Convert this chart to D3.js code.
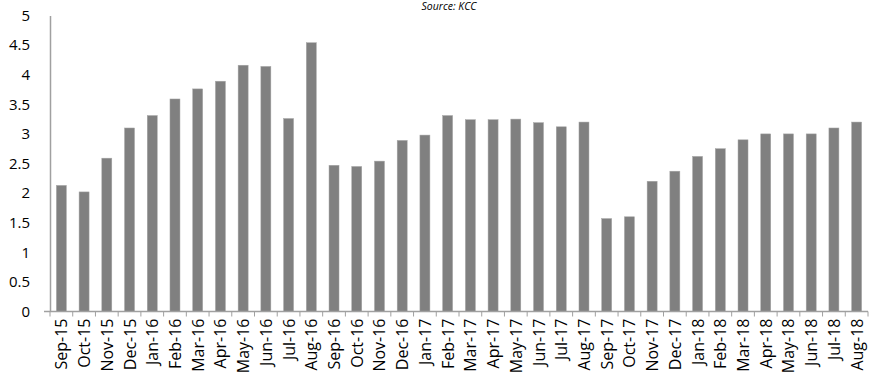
<!DOCTYPE html>
<html>
<head>
<meta charset="utf-8">
<script src="https://cdn.jsdelivr.net/npm/d3@7"></script>
<style>
  body { margin: 0; background: #fff; }
  svg { display: block; }
</style>
</head>
<body>
<div id="vizcont"></div>
<script>
// months shown on the x axis
var months = ["Sep-15","Oct-15","Nov-15","Dec-15","Jan-16","Feb-16","Mar-16","Apr-16","May-16","Jun-16","Jul-16","Aug-16",
              "Sep-16","Oct-16","Nov-16","Dec-16","Jan-17","Feb-17","Mar-17","Apr-17","May-17","Jun-17","Jul-17","Aug-17",
              "Sep-17","Oct-17","Nov-17","Dec-17","Jan-18","Feb-18","Mar-18","Apr-18","May-18","Jun-18","Jul-18","Aug-18"];
// value per month
var values = [2.13, 2.02, 2.59, 3.10, 3.31, 3.59, 3.76, 3.89, 4.16, 4.14, 3.26, 4.54,
              2.47, 2.45, 2.54, 2.89, 2.98, 3.31, 3.24, 3.24, 3.25, 3.19, 3.12, 3.20,
              1.57, 1.60, 2.20, 2.37, 2.62, 2.75, 2.90, 3.00, 3.00, 3.00, 3.10, 3.20];
var yTicks = [0, 0.5, 1, 1.5, 2, 2.5, 3, 3.5, 4, 4.5, 5];
var sourceNote = "Source: KCC";

var W = 870, H = 376;
var margin = {top: 15.5, right: 2, bottom: 64.5, left: 50};
var width = W - margin.left - margin.right;
var height = H - margin.top - margin.bottom;
var font = "'Open Sans', sans-serif";

var svg = d3.select("#vizcont").append("svg")
    .attr("width", W)
    .attr("height", H);

var g = svg.append("g")
    .attr("transform", "translate(" + margin.left + "," + margin.top + ")");

var x = d3.scaleBand().domain(months).range([0, width]).paddingInner(0.56).paddingOuter(0.28);
var y = d3.scaleLinear().domain([0, 5]).range([height, 0]);

// bars
g.selectAll("rect.bar")
    .data(months)
    .enter().append("rect")
    .attr("class", "bar")
    .attr("x", function(d) { return x(d); })
    .attr("y", function(d, i) { return y(values[i]); })
    .attr("width", x.bandwidth())
    .attr("height", function(d, i) { return height - y(values[i]); })
    .attr("fill", "#808080")
    .attr("stroke", "#a6a6a6")
    .attr("stroke-width", 0.5);

// y axis
var yAxis = g.append("g")
    .call(d3.axisLeft(y).tickValues(yTicks).tickSize(0).tickPadding(20).tickFormat(function(d) { return String(d); }));
yAxis.select(".domain").attr("stroke", "#a0a0a0").attr("stroke-width", 1.5);
yAxis.selectAll("text").style("font", "15px " + font).attr("fill", "#000");

// x axis line
g.append("line")
    .attr("x1", -6).attr("x2", width)
    .attr("y1", height).attr("y2", height)
    .attr("stroke", "#a0a0a0").attr("stroke-width", 1.5);

// ticks between categories
var step = x.step();
g.selectAll("line.xtick")
    .data(d3.range(months.length + 1))
    .enter().append("line")
    .attr("class", "xtick")
    .attr("x1", function(i) { return i * step; })
    .attr("x2", function(i) { return i * step; })
    .attr("y1", height).attr("y2", height + 5)
    .attr("stroke", "#a0a0a0").attr("stroke-width", 1);

// x labels, rotated
g.selectAll("text.xlab")
    .data(months)
    .enter().append("text")
    .attr("class", "xlab")
    .attr("transform", function(d) {
        return "translate(" + (x(d) + x.bandwidth() / 2 + 6) + "," + (height + 7) + ") rotate(-90)";
    })
    .attr("text-anchor", "end")
    .style("font", "16px " + font)
    .attr("fill", "#000")
    .text(function(d) { return d; });

// source note
svg.append("text")
    .attr("x", 449)
    .attr("y", 10)
    .attr("text-anchor", "middle")
    .style("font", "italic 10.5px " + font)
    .attr("fill", "#000")
    .text(sourceNote);
</script>
</body>
</html>
